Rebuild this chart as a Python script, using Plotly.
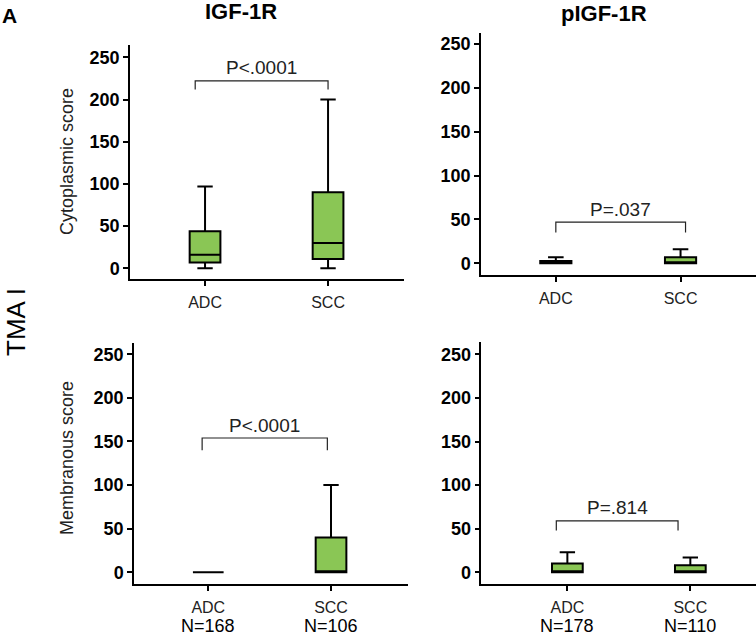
import plotly.graph_objects as go

# ---- data ----
categories = ["ADC", "SCC"]
panel_titles = ["IGF-1R", "pIGF-1R"]
row_titles = ["Cytoplasmic score", "Membranous score"]
n_labels_igf = ["N=168", "N=106"]
n_labels_pigf = ["N=178", "N=110"]

# IGF-1R cytoplasmic
igf_cyto_lower = [0, 0]
igf_cyto_q1 = [7, 11]
igf_cyto_median = [16, 30]
igf_cyto_q3 = [44, 90]
igf_cyto_upper = [97, 200]

# pIGF-1R cytoplasmic
pigf_cyto_lower = [0, 0]
pigf_cyto_q1 = [0, 0]
pigf_cyto_median = [1, 0]
pigf_cyto_q3 = [2.5, 7]
pigf_cyto_upper = [7, 16]

# IGF-1R membranous
igf_mem_lower = [0, 0]
igf_mem_q1 = [0, 0]
igf_mem_median = [0, 0]
igf_mem_q3 = [0, 40]
igf_mem_upper = [0, 100]

# pIGF-1R membranous
pigf_mem_lower = [0, 0]
pigf_mem_q1 = [0, 0]
pigf_mem_median = [0, 0]
pigf_mem_q3 = [10, 8]
pigf_mem_upper = [23, 17]

p_values = ["P<.0001", "P=.037", "P<.0001", "P=.814"]
# bracket: x_left, x_right, y_ends, y_top (data units)
brackets = [
    (-0.08, 1.0, 212, 222),
    (0.0, 1.04, 35, 47),
    (-0.05, 0.97, 140, 154),
    (-0.09, 0.9, 48, 59),
]

W, H = 756, 636
GREEN = "#8AC655"
FONT = "Liberation Sans, Arial, sans-serif"


def px(xp):
    return xp / W


def py(yp):
    return 1 - yp / H


fig = go.Figure()

panels = [
    dict(lower=igf_cyto_lower, q1=igf_cyto_q1, med=igf_cyto_median, q3=igf_cyto_q3, upper=igf_cyto_upper,
         xd=(130, 403.7), yd=(45, 279), xr=(-0.61, 1.615), yr=(-12.7, 264.6)),
    dict(lower=pigf_cyto_lower, q1=pigf_cyto_q1, med=pigf_cyto_median, q3=pigf_cyto_q3, upper=pigf_cyto_upper,
         xd=(481, 756), yd=(33.3, 275.3), xr=(-0.6, 1.605), yr=(-13.7, 262.2)),
    dict(lower=igf_mem_lower, q1=igf_mem_q1, med=igf_mem_median, q3=igf_mem_q3, upper=igf_mem_upper,
         xd=(134, 408), yd=(342.7, 584.3), xr=(-0.605, 1.627), yr=(-13.8, 263.3)),
    dict(lower=pigf_mem_lower, q1=pigf_mem_q1, med=pigf_mem_median, q3=pigf_mem_q3, upper=pigf_mem_upper,
         xd=(481.3, 756), yd=(341.7, 584.3), xr=(-0.7, 1.534), yr=(-13.8, 264.5)),
]

layout = dict(
    width=W, height=H, margin=dict(l=0, r=0, t=0, b=0),
    paper_bgcolor="white", plot_bgcolor="white", showlegend=False,
    font=dict(family=FONT, color="black"),
)

for i, p in enumerate(panels):
    k = "" if i == 0 else str(i + 1)
    xa, ya = "x" + k, "y" + k
    fig.add_trace(go.Box(
        x=[0, 1], q1=p["q1"], median=p["med"], q3=p["q3"],
        lowerfence=p["lower"], upperfence=p["upper"],
        width=0.25, whiskerwidth=0.5, boxpoints=False,
        fillcolor=GREEN, line=dict(color="black", width=2),
        xaxis=xa, yaxis=ya, hoverinfo="skip",
    ))
    layout["xaxis" + k] = dict(
        domain=[px(p["xd"][0]), min(1.0, px(p["xd"][1]))], range=list(p["xr"]), anchor=ya,
        tickvals=[0, 1], ticktext=categories, ticks="outside", ticklen=5, tickwidth=1.5,
        ticklabelstandoff=3,
        tickcolor="black", showline=True, linecolor="black", linewidth=1.5,
        showgrid=False, zeroline=False, tickfont=dict(family=FONT, size=16, color="#222"),
    )
    layout["yaxis" + k] = dict(
        domain=[py(p["yd"][1]), py(p["yd"][0])], range=list(p["yr"]), anchor=xa,
        tickvals=[0, 50, 100, 150, 200, 250], ticks="outside", ticklen=5, tickwidth=1.5,
        tickcolor="black", showline=True, linecolor="black", linewidth=1.5,
        showgrid=False, zeroline=False,
        tickfont=dict(family=FONT, size=18, color="black", weight="bold"),
    )

fig.update_layout(**layout)

shapes = []
annotations = []
for i, (xl, xr_, ye, yt) in enumerate(brackets):
    k = "" if i == 0 else str(i + 1)
    shapes.append(dict(
        type="path", xref="x" + k, yref="y" + k,
        path=f"M {xl},{ye} L {xl},{yt} L {xr_},{yt} L {xr_},{ye}",
        line=dict(color="#222", width=1.2),
    ))
    annotations.append(dict(
        text=p_values[i], xref="x" + k, yref="y" + k, x=(xl + xr_) / 2, y=yt,
        xanchor="center", yanchor="middle", showarrow=False, yshift=13,
        font=dict(family=FONT, size=19, color="#222"),
    ))

# N labels below bottom x axes
for k, labels in (("3", n_labels_igf), ("4", n_labels_pigf)):
    for j, lab in enumerate(labels):
        annotations.append(dict(
            text=lab, xref="x" + k, yref="paper", x=j, y=py(626), xanchor="center", yanchor="middle",
            showarrow=False, font=dict(family=FONT, size=18, color="black"),
        ))

# Column titles
annotations.append(dict(text="<b>" + panel_titles[0] + "</b>", xref="paper", yref="paper",
                        x=px(241), y=py(12), xanchor="center", yanchor="middle", showarrow=False,
                        font=dict(family=FONT, size=22, color="black")))
annotations.append(dict(text="<b>" + panel_titles[1] + "</b>", xref="paper", yref="paper",
                        x=px(604), y=py(14), xanchor="center", yanchor="middle", showarrow=False,
                        font=dict(family=FONT, size=22, color="black")))
# Row titles
annotations.append(dict(text=row_titles[0], xref="paper", yref="paper", x=px(67), y=py(162),
                        xanchor="center", yanchor="middle",
                        textangle=-90, showarrow=False, font=dict(family=FONT, size=18, color="#222")))
annotations.append(dict(text=row_titles[1], xref="paper", yref="paper", x=px(67), y=py(458),
                        xanchor="center", yanchor="middle",
                        textangle=-90, showarrow=False, font=dict(family=FONT, size=18, color="#222")))
# Panel label and TMA label
annotations.append(dict(text="<b>A</b>", xref="paper", yref="paper", x=px(9), y=py(16),
                        xanchor="center", yanchor="middle",
                        showarrow=False, font=dict(family=FONT, size=21, color="black")))
annotations.append(dict(text="TMA I", xref="paper", yref="paper", x=px(16), y=py(322),
                        xanchor="center", yanchor="middle",
                        textangle=-90, showarrow=False, font=dict(family=FONT, size=26, color="black")))

fig.update_layout(shapes=shapes, annotations=annotations)
fig.write_html("out.html", config={"displayModeBar": False},
               post_script="document.body.style.margin='0px';document.body.style.overflow='hidden';")
